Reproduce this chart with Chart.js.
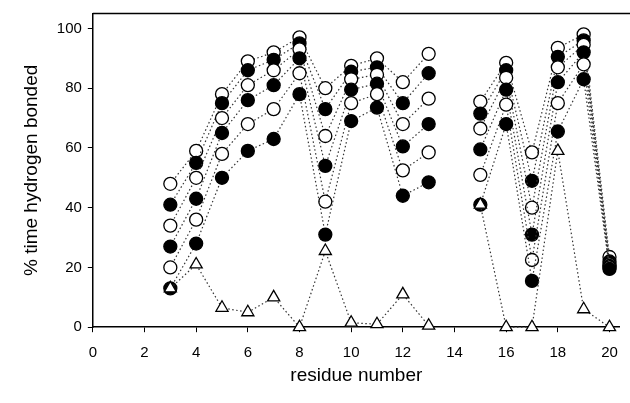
<!DOCTYPE html>
<html lang="en">
<head>
<meta charset="UTF-8" />
<title>% time hydrogen bonded</title>
<style>
  html, body { margin: 0; padding: 0; background: #fff; }
  #wrap { width: 630px; height: 403px; position: relative; }
</style>
</head>
<body>
<div id="wrap"><canvas id="hbChart"></canvas></div>
<script src="https://cdn.jsdelivr.net/npm/chart.js"></script>
<script>
  // residue numbers (14 is missing in the source data)
  const residues = [3, 4, 5, 6, 7, 8, 9, 10, 11, 12, 13, 14, 15, 16, 17, 18, 19, 20];

  // series, top to bottom, open / filled alternating
  const open1   = [48, 59, 78, 89, 92, 97, 80, 87.5, 90, 82, 91.5, null, 75.5, 88.5, 58.5, 93.5, 98, 23.5];
  const filled1 = [41, 55, 75, 86, 89.5, 95, 73, 85.5, 87, 75, 85, null, 71.5, 86, 49, 90.5, 96, 22];
  const open2   = [34, 50, 70, 81, 86, 93, 64, 83, 84.5, 68, 76.5, null, 66.5, 83.5, 40, 87, 94.5, 21];
  const filled2 = [27, 43, 65, 76, 81, 90, 54, 79.5, 81.5, 60.5, 68, null, 59.5, 79.5, 31, 82, 92, 20.5];
  const open3   = [20, 36, 58, 68, 73, 85, 42, 75, 78, 52.5, 58.5, null, 51, 74.5, 22.5, 75, 88, 20];
  const filled3 = [13, 28, 50, 59, 63, 78, 31, 69, 73.5, 44, 48.5, null, 41, 68, 15.5, 65.5, 83, 19.5];
  const triangles = [13, 21, 6.5, 5, 10, 0, 25.5, 1.5, 1, 11, 0.5, null, 41, 0, 0, 59, 6, 0];

  const xTicks = [0, 2, 4, 6, 8, 10, 12, 14, 16, 18, 20];
  const yTicks = [0, 20, 40, 60, 80, 100];

  function toPoints(vals) {
    return residues.map((r, i) => ({ x: r, y: vals[i] }));
  }

  function series(vals, filled, order) {
    return {
      data: toPoints(vals),
      borderColor: '#333',
      borderWidth: 1.2,
      borderDash: [1.5, 2.5],
      pointStyle: 'circle',
      pointRadius: 6.5,
      pointBorderWidth: 1.3,
      pointBorderColor: '#000',
      pointBackgroundColor: filled ? '#000' : '#fff',
      spanGaps: false,
      clip: false,
      order: order
    };
  }

  // draw the top frame line (runs to the edge of the picture)
  const topFrame = {
    id: 'topFrame',
    beforeDatasetsDraw(chart) {
      const { ctx, chartArea } = chart;
      ctx.save();
      ctx.strokeStyle = '#000';
      ctx.lineWidth = 1.5;
      ctx.beginPath();
      ctx.moveTo(chartArea.left, chartArea.top);
      ctx.lineTo(chart.width, chartArea.top);
      ctx.stroke();
      ctx.restore();
    }
  };

  const font = { family: 'Liberation Sans, Arial, sans-serif', size: 15 };

  new Chart(document.getElementById('hbChart'), {
    type: 'line',
    data: {
      datasets: [
        series(open1, false, 7),
        series(filled1, true, 6),
        series(open2, false, 5),
        series(filled2, true, 4),
        series(open3, false, 3),
        series(filled3, true, 2),
        {
          data: toPoints(triangles),
          borderColor: '#333',
          borderWidth: 1.2,
          borderDash: [1.5, 2.5],
          pointStyle: 'triangle',
          pointRadius: 7,
          pointBorderWidth: 1.3,
          pointBorderColor: '#000',
          pointBackgroundColor: '#fff',
          spanGaps: false,
          clip: false,
          order: 1
        }
      ]
    },
    plugins: [topFrame],
    options: {
      responsive: true,
      maintainAspectRatio: false,
      animation: false,
      layout: { padding: { left: 16, right: 0, top: 4, bottom: 12 } },
      plugins: { legend: { display: false }, tooltip: { enabled: false } },
      scales: {
        x: {
          type: 'linear',
          min: 0,
          max: 20.4,
          afterBuildTicks: axis => { axis.ticks = xTicks.map(v => ({ value: v })); },
          ticks: { color: '#000', font: font, padding: 12, maxRotation: 0 },
          grid: { display: true, drawOnChartArea: false, drawTicks: true, tickLength: 5, color: '#000' },
          border: { display: true, color: '#000', width: 1.5 },
          title: { display: true, text: 'residue number', color: '#000',
                   font: { family: font.family, size: 19 }, padding: { top: -10, bottom: 4 } }
        },
        y: {
          min: 0,
          max: 105,
          afterBuildTicks: axis => { axis.ticks = yTicks.map(v => ({ value: v })); },
          ticks: { color: '#000', font: { family: font.family, size: 15, lineHeight: 1 }, padding: 6 },
          grid: { display: true, drawOnChartArea: false, drawTicks: true, tickLength: 5, color: '#000' },
          border: { display: true, color: '#000', width: 1.5 },
          title: { display: true, text: '% time hydrogen bonded', color: '#000',
                   font: { family: font.family, size: 19 }, padding: { bottom: 8 } }
        }
      }
    }
  });
</script>
</body>
</html>
